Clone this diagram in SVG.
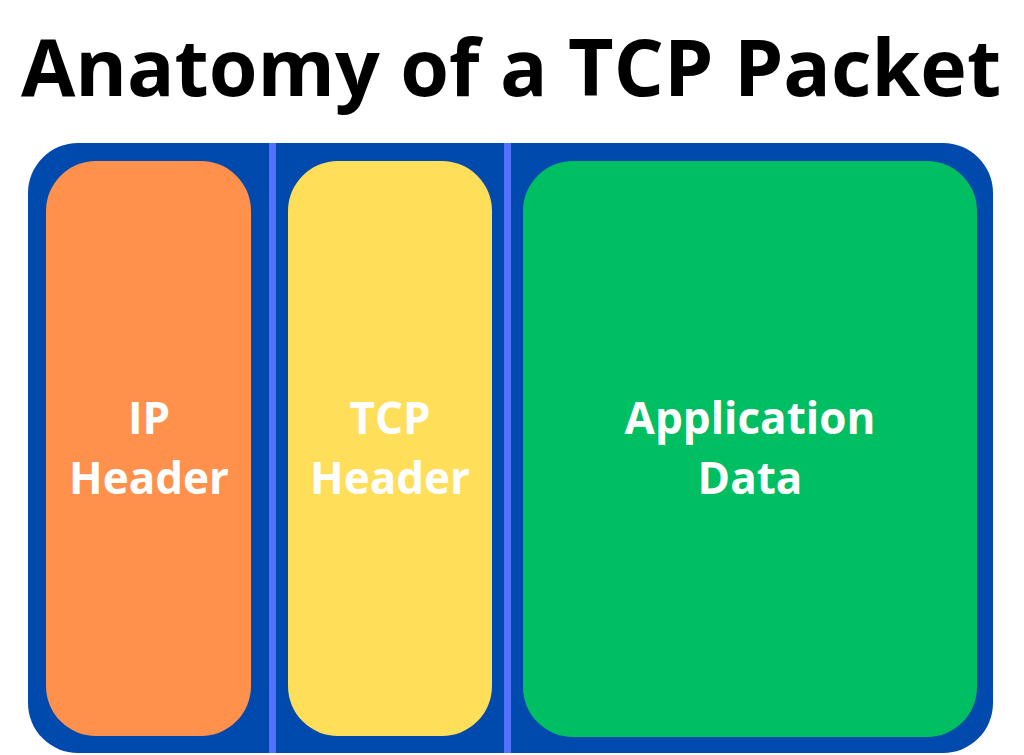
<svg xmlns="http://www.w3.org/2000/svg" width="1024" height="755" viewBox="0 0 1024 755">
<style>
.title{font-family:"Open Sans","Liberation Sans",sans-serif;font-weight:700;font-size:78.8px;fill:#000;text-anchor:middle}
.lbl{font-family:"Open Sans","Liberation Sans",sans-serif;font-weight:700;font-size:44px;fill:#fff;text-anchor:middle}
.div{fill:#5271FF}
</style>
<rect width="1024" height="755" fill="#fff"/>
<text class="title" x="511" y="96">Anatomy of a TCP Packet</text>
<g id="packet">
<rect x="28" y="143" width="965" height="610" rx="50" ry="50" fill="#004AAD"/>
</g>
<g id="connectors">
<rect class="div" x="269" y="143" width="7" height="610"/>
<rect class="div" x="504" y="143" width="7" height="610"/>
</g>
<g id="ip-header">
<rect x="46" y="161" width="205" height="575" rx="50" ry="50" fill="#FF914D"/>
<text class="lbl" x="149" y="434">IP</text>
<text class="lbl" x="149" y="494">Header</text>
</g>
<g id="tcp-header">
<rect x="288" y="161" width="204" height="575" rx="50" ry="50" fill="#FFDE59"/>
<text class="lbl" x="390" y="434">TCP</text>
<text class="lbl" x="390" y="494">Header</text>
</g>
<g id="application-data">
<rect x="523" y="161" width="454" height="576" rx="50" ry="50" fill="#00BF63"/>
<text class="lbl" x="750" y="434">Application</text>
<text class="lbl" x="750" y="494">Data</text>
</g>
</svg>
